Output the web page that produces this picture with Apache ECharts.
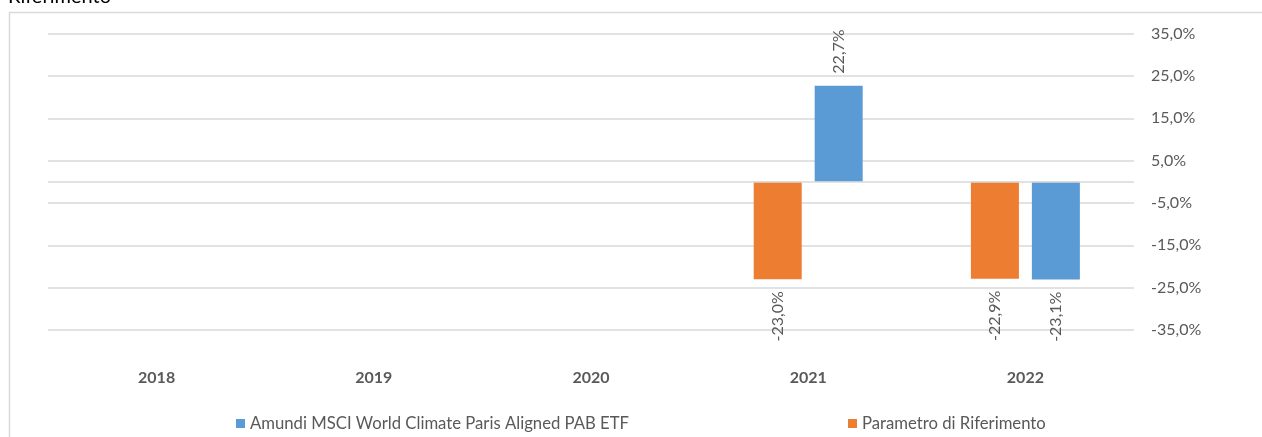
<!DOCTYPE html>
<html>
<head>
<meta charset="utf-8">
<script src="https://cdn.jsdelivr.net/npm/echarts@6/dist/echarts.min.js"></script>
<style>
html,body{margin:0;padding:0;background:#fff;}
#chart{width:1262px;height:437px;}
</style>
</head>
<body>
<div id="chart"></div>
<script>
var categories = ['2018', '2019', '2020', '2021', '2022'];
var amundiValues = [null, null, null, 22.7, -23.1];
var parametroValues = [null, null, null, -23.0, -22.9];
var seriesNames = ['Amundi MSCI World Climate Paris Aligned PAB ETF', 'Parametro di Riferimento'];
var titleText = 'Riferimento';

var FONT = 'Lato';
var TXT = '#595959';

function fmt(v) { return v.toFixed(1).replace('.', ',') + '%'; }

function buildData(arr) {
  return arr.map(function (v) {
    if (v === null) return null;
    var pos = v >= 0;
    return {
      value: v,
      label: {
        show: true,
        rotate: 90,
        position: pos ? 'top' : 'bottom',
        align: pos ? 'left' : 'right',
        verticalAlign: 'middle',
        distance: 12,
        color: TXT,
        fontFamily: FONT,
        fontSize: 16,
        formatter: function (p) { return fmt(p.value); }
      }
    };
  });
}

var chart = echarts.init(document.getElementById('chart'), null, {renderer: 'canvas'});
chart.setOption({
  animation: false,
  backgroundColor: '#fff',
  textStyle: {fontFamily: FONT},
  graphic: [
    {type: 'rect', silent: true, shape: {x: 9.5, y: 12.5, width: 1400, height: 600},
     style: {fill: 'none', stroke: '#d9d9d9', lineWidth: 1.5}},
    {type: 'text', left: 8, top: -13, silent: true,
     style: {text: titleText, fontFamily: FONT, fontSize: 20, fill: '#000'}}
  ],
  grid: {left: 48, right: 128, top: 33.6, bottom: 107, containLabel: false},
  legend: [
    {data: [seriesNames[0]], left: 236, top: 415, padding: 0, itemWidth: 9, itemHeight: 9, itemGap: 20,
     icon: 'rect', textStyle: {color: TXT, fontSize: 16.7, fontFamily: FONT}},
    {data: [seriesNames[1]], left: 848, top: 415, padding: 0, itemWidth: 9, itemHeight: 9, itemGap: 20,
     icon: 'rect', textStyle: {color: TXT, fontSize: 16.7, fontFamily: FONT}}
  ],
  xAxis: {
    type: 'category',
    data: categories,
    axisLine: {show: false},
    axisTick: {show: false},
    axisLabel: {color: TXT, fontWeight: 'bold', fontSize: 16, fontFamily: FONT, margin: 40}
  },
  yAxis: {
    type: 'value',
    position: 'right',
    min: -35, max: 35, interval: 10,
    axisLine: {show: false},
    axisTick: {show: false},
    axisLabel: {color: TXT, fontSize: 16, fontFamily: FONT, margin: 17, formatter: fmt},
    splitLine: {lineStyle: {color: '#d9d9d9', width: 1.5}}
  },
  series: [
    {
      name: seriesNames[1], type: 'bar', data: buildData(parametroValues),
      itemStyle: {color: '#ED7D31'}, barWidth: 48, barGap: '27%',
      markLine: {silent: true, symbol: 'none', label: {show: false},
        lineStyle: {color: '#d9d9d9', width: 1.5, type: 'solid'}, data: [{yAxis: 0}]}
    },
    {
      name: seriesNames[0], type: 'bar', data: buildData(amundiValues),
      itemStyle: {color: '#5B9BD5'}, barWidth: 48, barGap: '27%'
    }
  ]
});
</script>
</body>
</html>
